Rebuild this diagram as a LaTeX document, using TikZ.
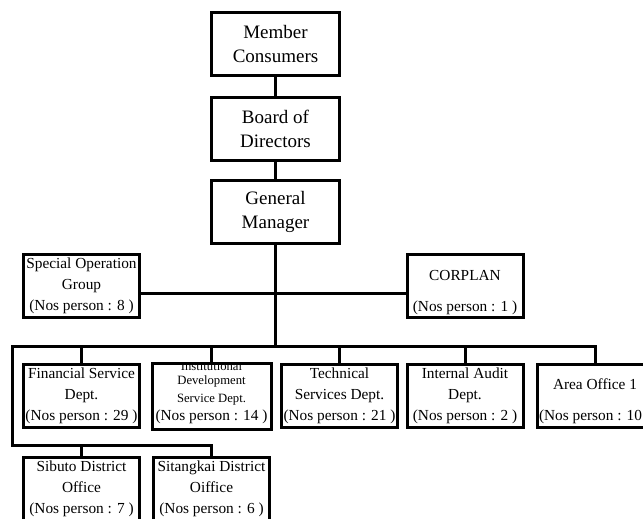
\documentclass[tikz,border=0pt]{standalone}
\usepackage{fontspec}
\setmainfont{Liberation Serif}
\begin{document}
\begin{tikzpicture}[x=0.75pt,y=-0.75pt,
  line width=2.25pt, line join=miter,
  box/.style={draw, rectangle, minimum width=87pt, minimum height=47.25pt,
    inner sep=0pt, align=center, font=\fontsize{11.5}{15.6}\selectfont},
  topbox/.style={box, minimum width=96pt, font=\fontsize{14.25}{18}\selectfont},
  boxtext/.style={inner sep=0pt, align=center, font=\fontsize{11.5}{15.6}\selectfont},
  smalltext/.style={inner sep=0pt, align=center, font=\fontsize{9.5}{13.5}\selectfont}]
\useasboundingbox (0,0) rectangle (643,518);
\fill[white] (0,0) rectangle (643,518);
\clip (0,0) rectangle (643,518);

% governance chain
\node[topbox] (member) at (275.5,44)  {Member\\Consumers};
\node[topbox] (board)  at (275.5,129) {Board of\\Directors};
\node[topbox] (gm)     at (275.5,212) {General\\Manager};

% staff units beside the trunk
\node[box] (sog)  at (81.5,286) {Special Operation\\Group\\(Nos person : 8 )};
\node[box] (corp) at (465,286) {};
\node[boxtext] (corptext) at (465,292.5) {CORPLAN\\[8pt](Nos person : 1 )};

% departments
\node[box] (fin)   at (81.5,396)  {Financial Service\\Dept.\\(Nos person : 29 )};
\node[box, draw=none] (inst) at (211.5,396) {};
\node[box] (tech)  at (339.5,396) {Technical\\Services Dept.\\(Nos person : 21 )};
\node[box] (audit) at (465,396)   {Internal Audit\\Dept.\\(Nos person : 2 )};
\node[box] (area)  at (595,396)   {};
\node[boxtext] (areatext) at (595,401) {Area Office 1\\[7.5pt](Nos person : 10 )};

% institutional development: small type, clipped by the frame
\begin{scope}
  \clip ([shift={(1.5,1.5)}]inst.north west) rectangle ([shift={(-1.5,-1.5)}]inst.south east);
  \node[smalltext] (insttext) at (211.5,383) {Institutional\\[-3pt]Development\\Service Dept.};
\end{scope}
\node[boxtext] (instnos) at (211.5,417) {(Nos person : 14 )};
\draw (inst.north west) rectangle (inst.south east);

% district offices
\node[box] (sib) at (81.5,489)  {Sibuto District\\Office\\(Nos person : 7 )};
\node[box] (sit) at (211.5,489) {Sitangkai District\\Oiffice\\(Nos person : 6 )};

% connectors
\coordinate (staff) at (276,293);
\coordinate (busL)  at (12,346);
\coordinate (lowL)  at (12,445);

\draw (member) -- (board);
\draw (board) -- (gm);
\draw (gm.south) -- (gm.south |- busL);
\draw (sog.east |- staff) -- (corp.west |- staff);
\draw (area.north) |- (busL) -- (lowL) -| (sit.north);
\foreach \n in {fin,inst,tech,audit}
  \draw (\n.north) -- (\n.north |- busL);
\draw (sib.north) -- (sib.north |- lowL);
\end{tikzpicture}
\end{document}
